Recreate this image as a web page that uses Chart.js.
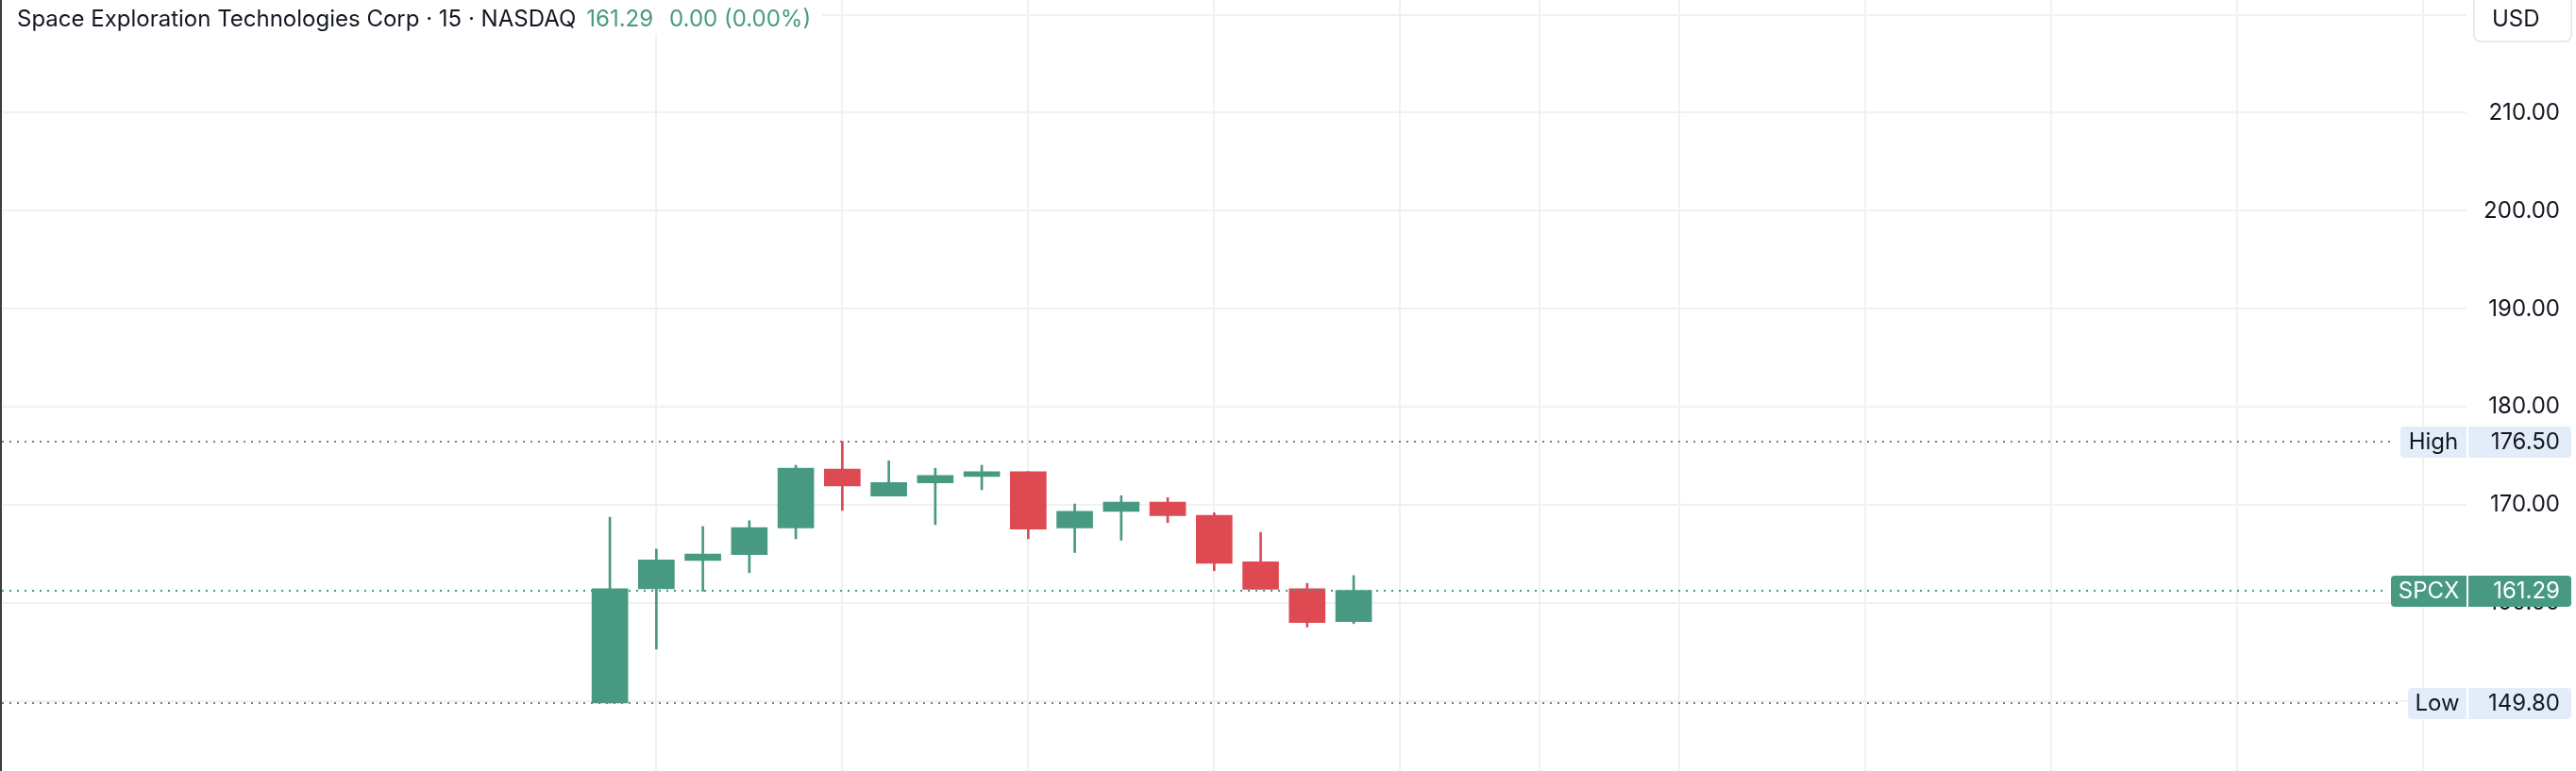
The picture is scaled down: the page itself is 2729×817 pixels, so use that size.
<!DOCTYPE html>
<html>
<head>
<meta charset="utf-8">
<script src="https://cdn.jsdelivr.net/npm/chart.js@4.4.0/dist/chart.umd.min.js"></script>
<style>
  html, body { margin: 0; padding: 0; background: #fff; }
</style>
</head>
<body>
<canvas id="chart" width="2729" height="817"></canvas>
<script>
// header text
const title = "Space Exploration Technologies Corp · 15 · NASDAQ";
const symbol = "SPCX";
const lastPrice = 161.29;
const changeText = "0.00 (0.00%)";
const highPrice = 176.50;
const lowPrice = 149.80;

// 15 minute candles, index along the time axis
const bars = [0, 1, 2, 3, 4, 5, 6, 7, 8, 9, 10, 11, 12, 13, 14, 15, 16];
const opens  = [149.80, 161.45, 164.35, 164.95, 167.65, 173.65, 170.90, 172.25, 172.90, 173.40, 167.65, 169.35, 170.30, 168.95, 164.20, 161.45, 158.10];
const highs  = [168.75, 165.50, 167.80, 168.40, 174.05, 176.50, 174.50, 173.75, 174.05, 173.40, 170.10, 170.95, 170.75, 169.20, 167.20, 162.00, 162.80];
const lows   = [149.80, 155.30, 161.20, 163.10, 166.55, 169.45, 170.90, 168.00, 171.55, 166.55, 165.15, 166.40, 168.20, 163.30, 161.40, 157.55, 157.90];
const closes = [161.45, 164.40, 165.00, 167.70, 173.75, 171.95, 172.30, 173.00, 173.40, 167.55, 169.35, 170.30, 168.90, 164.05, 161.40, 158.00, 161.29];

// axis ticks
const priceTicks = [150, 160, 170, 180, 190, 200, 210, 220];
const timeTicks = [1, 5, 9, 13, 17, 20, 23, 27, 31, 35, 39];

const UP = "#479a81";
const DOWN = "#dd4a51";
const TEXT = "#131722";
const FONT = "Inter, 'Noto Sans', sans-serif";

const candleColors = bars.map((b, i) => closes[i] >= opens[i] ? UP : DOWN);

const overlay = {
  id: "overlay",
  afterDatasetsDraw(chart) {
    const ctx = chart.ctx;
    const y = chart.scales.y;
    const lines = [
      { v: highPrice, c: "#7d7f86", end: 2537 },
      { v: lastPrice, c: UP, end: 2527 },
      { v: lowPrice, c: "#7d7f86", end: 2545 }
    ];
    ctx.save();
    ctx.lineWidth = 2;
    ctx.setLineDash([2, 6]);
    lines.forEach(l => {
      const py = Math.round(y.getPixelForValue(l.v));
      ctx.strokeStyle = l.c;
      ctx.beginPath();
      ctx.moveTo(2, py);
      ctx.lineTo(l.end, py);
      ctx.stroke();
    });
    ctx.restore();
  },
  afterDraw(chart) {
    const ctx = chart.ctx;
    const y = chart.scales.y;
    ctx.save();
    ctx.font = "24px " + FONT;
    ctx.textBaseline = "middle";

    //legend at the top left
    let x = 18;
    const ty = 21;
    const w1 = ctx.measureText(title).width;
    const w2 = ctx.measureText(lastPrice.toFixed(2)).width;
    const w3 = ctx.measureText(changeText).width;
    ctx.fillStyle = "#fff";
    ctx.fillRect(0, 0, x + w1 + w2 + w3 + 40, 36);
    ctx.textAlign = "left";
    ctx.fillStyle = TEXT;
    ctx.fillText(title, x, ty);
    x += w1 + 11;
    ctx.fillStyle = UP;
    ctx.fillText(lastPrice.toFixed(2), x, ty);
    x += w2 + 17;
    ctx.fillText(changeText, x, ty);

    //currency box
    ctx.fillStyle = "#fff";
    ctx.strokeStyle = "#e0e3eb";
    ctx.lineWidth = 1.5;
    ctx.beginPath();
    ctx.roundRect(2621, -8, 103, 52, 7);
    ctx.fill();
    ctx.stroke();
    ctx.fillStyle = TEXT;
    ctx.fillText("USD", 2640, 21);

    //price labels on the axis
    const tags = [
      { v: highPrice, name: "High", left: 2543, bg: "#e3edf9", fg: TEXT },
      { v: lastPrice, name: symbol, left: 2533, bg: UP, fg: "#fff" },
      { v: lowPrice, name: "Low", left: 2551, bg: "#e3edf9", fg: TEXT }
    ];
    tags.forEach(t => {
      const cy = y.getPixelForValue(t.v);
      const top = Math.round(cy) - 16;
      ctx.fillStyle = t.bg;
      ctx.beginPath();
      ctx.roundRect(t.left, top, 2613 - t.left, 33, [4, 0, 0, 4]);
      ctx.fill();
      ctx.beginPath();
      ctx.roundRect(2615, top, 109, 33, [0, 4, 4, 0]);
      ctx.fill();
      ctx.fillStyle = t.fg;
      ctx.textAlign = "center";
      ctx.fillText(t.name, (t.left + 2613) / 2, cy + 1);
      ctx.textAlign = "right";
      ctx.fillText(t.v.toFixed(2), 2712, cy + 1);
    });

    //window edge on the left
    ctx.fillStyle = "#3c3c3c";
    ctx.fillRect(0, 0, 2, chart.height);
    ctx.restore();
  }
};

new Chart(document.getElementById("chart"), {
  type: "bar",
  data: {
    datasets: [
      {
        label: "body",
        data: bars.map((b, i) => ({ x: b, y: [opens[i], closes[i]] })),
        backgroundColor: candleColors,
        barThickness: 38,
        grouped: false,
        borderWidth: 0
      },
      {
        label: "wick",
        data: bars.map((b, i) => ({ x: b, y: [lows[i], highs[i]] })),
        backgroundColor: candleColors,
        barThickness: 2,
        grouped: false,
        borderWidth: 0
      }
    ]
  },
  options: {
    responsive: false,
    animation: false,
    devicePixelRatio: 1,
    layout: { padding: { left: 0, right: 17, top: 0, bottom: 0 } },
    plugins: {
      legend: { display: false },
      tooltip: { enabled: false }
    },
    scales: {
      x: {
        type: "linear",
        min: -13.12,
        max: 39.94,
        offset: false,
        grid: { offset: false, color: "#f1f1f3", lineWidth: 2, drawTicks: false },
        border: { display: false },
        ticks: { display: false },
        afterBuildTicks: s => { s.ticks = timeTicks.map(v => ({ value: v })); },
        afterFit: s => { s.height = 0; s.paddingLeft = 0; s.paddingRight = 0; }
      },
      y: {
        position: "right",
        min: 142.87,
        max: 221.50,
        beginAtZero: false,
        grid: { color: "#f1f1f3", lineWidth: 2, drawTicks: false },
        border: { display: false },
        ticks: {
          crossAlign: "far",
          color: TEXT,
          font: { family: FONT, size: 24 },
          callback: v => Number(v).toFixed(2)
        },
        afterBuildTicks: s => { s.ticks = priceTicks.map(v => ({ value: v })); },
        afterFit: s => { s.width = 99; s.paddingTop = 0; s.paddingBottom = 0; }
      }
    }
  },
  plugins: [overlay]
});
</script>
</body>
</html>
